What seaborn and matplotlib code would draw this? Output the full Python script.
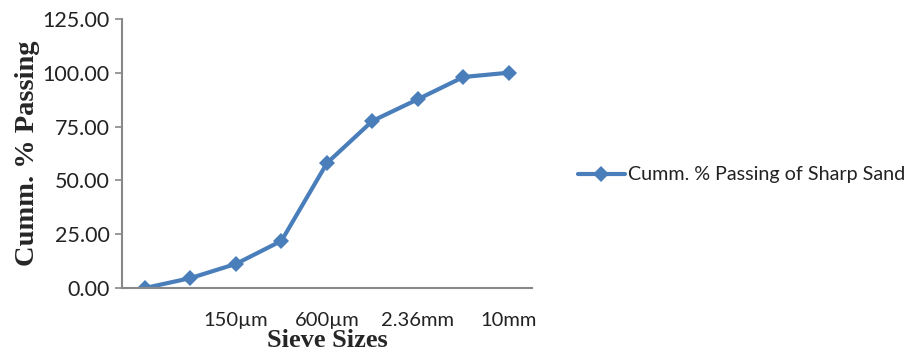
import matplotlib
matplotlib.use("Agg")
import matplotlib.pyplot as plt
import seaborn as sns
import pandas as pd

sieve_sizes = ["Pan", "75µm", "150µm", "300µm", "600µm", "1.18mm", "2.36mm", "5mm", "10mm"]
shown_labels = ["", "150µm", "600µm", "2.36mm", "10mm"]
cumm_passing = [0.0, 4.6, 11.2, 21.9, 58.0, 77.6, 87.7, 98.0, 100.0]
series_name = "Cumm. % Passing of Sharp Sand"

sns.set_theme(style="white")
plt.rcParams['font.family'] = ['Lato', 'DejaVu Sans']

df = pd.DataFrame({"pos": range(len(sieve_sizes)), "size": sieve_sizes,
                   "val": cumm_passing, "series": series_name})

fig = plt.figure(figsize=(9.12, 3.56), dpi=100)
ax = fig.add_axes([0.134, 0.191, 0.449, 0.756])
color = "#4A7EBB"
sns.lineplot(data=df, x="pos", y="val", hue="series", palette=[color], ax=ax,
             marker="D", markersize=8, linewidth=3, markeredgewidth=0)

ax.set_xlim(-0.5, len(sieve_sizes) - 0.5)
ax.set_ylim(0, 125)
ax.set_yticks([0, 25, 50, 75, 100, 125])
ax.set_yticklabels([f"{v:.2f}" for v in [0, 25, 50, 75, 100, 125]], fontsize=15.5, color="#222222")
ax.set_xticks(list(range(0, len(sieve_sizes), 2)))
ax.set_xticklabels(shown_labels, fontsize=14.5, color="#222222")
ax.tick_params(axis="x", length=0, pad=17)
ax.tick_params(axis="y", length=5, width=1.2, color="#888888", direction="out", pad=4, left=True)

for s in ["top", "right"]:
    ax.spines[s].set_visible(False)
for s in ["left", "bottom"]:
    ax.spines[s].set_color("#888888")
    ax.spines[s].set_linewidth(1.5)

ax.set_xlabel("Sieve Sizes", fontsize=19, fontweight="bold", family="Liberation Serif", labelpad=0)
ax.set_ylabel("Cumm. % Passing", fontsize=20.5, fontweight="bold", family="Liberation Serif", labelpad=2)

leg = ax.legend(loc="center left", bbox_to_anchor=(1.093, 0.42), frameon=False,
                fontsize=14.2, handlelength=2.4, handletextpad=0.15, borderaxespad=0)
for t in leg.get_texts():
    t.set_color("#222222")

fig.savefig("out.png", dpi=100)
